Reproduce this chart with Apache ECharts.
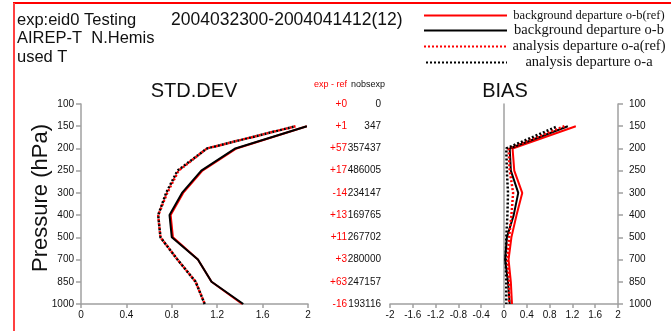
<!DOCTYPE html>
<html>
<head>
<meta charset="utf-8">
<script src="https://cdn.jsdelivr.net/npm/echarts@6/dist/echarts.min.js"></script>
<style>
  html, body { margin: 0; padding: 0; background: #fff; }
  #chart { width: 671px; height: 331px; }
</style>
</head>
<body>
<div id="chart"></div>
<script>
// pressure levels (hPa), top to bottom
const levels = ['100', '150', '200', '250', '300', '400', '500', '700', '850', '1000'];

// STD.DEV profiles
const stdObRef = ['-', 1.99, 1.37, 1.07, 0.90, 0.79, 0.81, 1.03, 1.15, 1.42];
const stdOb    = ['-', 1.99, 1.36, 1.06, 0.89, 0.78, 0.80, 1.03, 1.15, 1.43];
const stdOaRef = ['-', 1.89, 1.11, 0.86, 0.76, 0.68, 0.70, 0.85, 1.01, 1.09];
const stdOa    = ['-', 1.89, 1.11, 0.85, 0.75, 0.68, 0.70, 0.85, 1.01, 1.09];

// BIAS profiles
const biasObRef = ['-', 1.26, 0.15, 0.18, 0.32, 0.22, 0.13, 0.08, 0.12, 0.14];
const biasOb    = ['-', 1.12, 0.10, 0.12, 0.25, 0.17, 0.05, 0.02, 0.07, 0.10];
const biasOaRef = ['-', 1.06, 0.08, 0.10, 0.16, 0.13, 0.09, 0.06, 0.09, 0.09];
const biasOa    = ['-', 0.94, 0.04, 0.05, 0.07, 0.06, 0.04, 0.03, 0.04, 0.04];

// observation counts per level
const expMinusRef = ['+0', '+1', '+57', '+17', '-14', '+13', '+11', '+3', '+63', '-16'];
const nobsExp     = ['0', '347', '357437', '486005', '234147', '169765', '267702', '280000', '247157', '193116'];

const names = [
  'background departure o-b(ref)',
  'background departure o-b',
  'analysis departure o-a(ref)',
  'analysis departure o-a'
];

const AXIS = '#a0a0a0';
const SANS = 'Liberation Sans, Arial, sans-serif';

function fmt(v) {
  return String(+v.toFixed(1));
}

function valueAxis(gridIndex, min, max) {
  return {
    type: 'value', gridIndex, min, max, interval: 0.4,
    splitLine: {show: false},
    axisLine: {show: true, lineStyle: {color: AXIS, width: 1.5}},
    axisTick: {show: true, length: 4, lineStyle: {color: AXIS, width: 1.5}},
    axisLabel: {color: '#111', fontSize: 10, fontFamily: SANS, margin: 6, formatter: fmt}
  };
}

function profiles(xi, yi, a, b, c, d) {
  const base = {type: 'line', xAxisIndex: xi, yAxisIndex: yi, symbol: 'none', z: 3};
  return [
    {...base, name: names[0], data: a, lineStyle: {color: '#ff0000', width: 2}, itemStyle: {color: '#ff0000'}},
    {...base, name: names[1], data: b, lineStyle: {color: '#000', width: 2}, itemStyle: {color: '#000'}},
    {...base, name: names[2], data: c, lineStyle: {color: '#ff0000', width: 2.5, type: [2, 2]}, itemStyle: {color: '#ff0000'}},
    {...base, name: names[3], data: d, lineStyle: {color: '#000', width: 2.5, type: [2, 2], dashOffset: 2}, itemStyle: {color: '#000'}}
  ];
}

const chart = echarts.init(document.getElementById('chart'));

chart.setOption({
  animation: false,
  backgroundColor: '#fff',
  grid: [
    {left: 81, top: 104, width: 227, height: 200},
    {left: 390, top: 104, width: 228, height: 200}
  ],
  xAxis: [
    valueAxis(0, 0, 2),
    valueAxis(1, -2, 2)
  ],
  yAxis: [
    {
      type: 'category', gridIndex: 0, data: levels, inverse: true, boundaryGap: false,
      position: 'left',
      axisLine: {show: true, onZero: false, lineStyle: {color: AXIS, width: 1.5}},
      axisTick: {show: true, length: 5, lineStyle: {color: AXIS, width: 1.5}},
      axisLabel: {color: '#111', fontSize: 10, fontFamily: SANS, margin: 7}
    },
    {
      // nobs column
      type: 'category', gridIndex: 0, data: levels, inverse: true, boundaryGap: false,
      position: 'right',
      axisLine: {show: false, onZero: false},
      axisTick: {show: false},
      axisLabel: {
        margin: 2,
        formatter: (v, i) => '{r|' + expMinusRef[i] + '}{b|' + nobsExp[i] + '}',
        rich: {
          r: {width: 37, align: 'right', color: '#ff0000', fontSize: 10, fontFamily: SANS},
          b: {width: 34, align: 'right', color: '#111', fontSize: 10, fontFamily: SANS}
        }
      }
    },
    {
      type: 'category', gridIndex: 1, data: levels, inverse: true, boundaryGap: false,
      position: 'right',
      axisLine: {show: true, onZero: false, lineStyle: {color: AXIS, width: 1.5}},
      axisTick: {show: true, length: 5, lineStyle: {color: AXIS, width: 1.5}},
      axisLabel: {color: '#111', fontSize: 10, fontFamily: SANS, margin: 11}
    },
    {
      // zero line of the bias panel
      type: 'category', gridIndex: 1, data: levels, inverse: true, boundaryGap: false,
      axisLine: {show: true, onZero: true, lineStyle: {color: AXIS, width: 1.5}},
      axisTick: {show: false},
      axisLabel: {show: false}
    }
  ],
  legend: {
    left: 418, top: 4, orient: 'vertical',
    itemWidth: 83, itemHeight: 14, itemGap: 1,
    itemStyle: {opacity: 0},
    data: names,
    formatter: n => (n === names[0] ? '{s|' : '{c|') + n + '}',
    textStyle: {
      rich: {
        s: {width: 154, align: 'center', fontSize: 12.5, lineHeight: 14, fontFamily: 'Liberation Serif, serif', color: '#111'},
        c: {width: 154, align: 'center', fontSize: 14.5, lineHeight: 14, fontFamily: 'Liberation Serif, serif', color: '#111'}
      }
    }
  },
  graphic: [
    {type: 'line', shape: {x1: 13, y1: 3, x2: 671, y2: 3}, style: {stroke: '#ff0000', lineWidth: 2}},
    {type: 'line', shape: {x1: 14, y1: 3, x2: 14, y2: 331}, style: {stroke: '#ff4040', lineWidth: 2}},
    {type: 'text', x: 17, y: 20, style: {text: 'exp:eid0 Testing', font: '16.5px ' + SANS, fill: '#111', verticalAlign: 'middle'}},
    {type: 'text', x: 171, y: 20, style: {text: '2004032300-2004041412(12)', font: '17.5px ' + SANS, fill: '#111', verticalAlign: 'middle'}},
    {type: 'text', x: 17, y: 38, style: {text: 'AIREP-T  N.Hemis', font: '16.5px ' + SANS, fill: '#111', verticalAlign: 'middle'}},
    {type: 'text', x: 17, y: 57, style: {text: 'used T', font: '16.5px ' + SANS, fill: '#111', verticalAlign: 'middle'}},
    {type: 'text', x: 194, y: 91, style: {text: 'STD.DEV', font: '20px ' + SANS, fill: '#111', align: 'center', verticalAlign: 'middle'}},
    {type: 'text', x: 505, y: 91, style: {text: 'BIAS', font: '20px ' + SANS, fill: '#111', align: 'center', verticalAlign: 'middle'}},
    {type: 'text', x: 41, y: 198, rotation: Math.PI / 2, style: {text: 'Pressure (hPa)', font: '22px ' + SANS, fill: '#111', align: 'center', verticalAlign: 'middle'}},
    {type: 'text', x: 347, y: 85, style: {text: 'exp - ref', font: '9px ' + SANS, fill: '#ff0000', align: 'right', verticalAlign: 'middle'}},
    {type: 'text', x: 385, y: 85, style: {text: 'nobsexp', font: '9px ' + SANS, fill: '#111', align: 'right', verticalAlign: 'middle'}}
  ],
  series: [
    ...profiles(0, 0, stdObRef, stdOb, stdOaRef, stdOa),
    ...profiles(1, 2, biasObRef, biasOb, biasOaRef, biasOa)
  ]
});
</script>
</body>
</html>
